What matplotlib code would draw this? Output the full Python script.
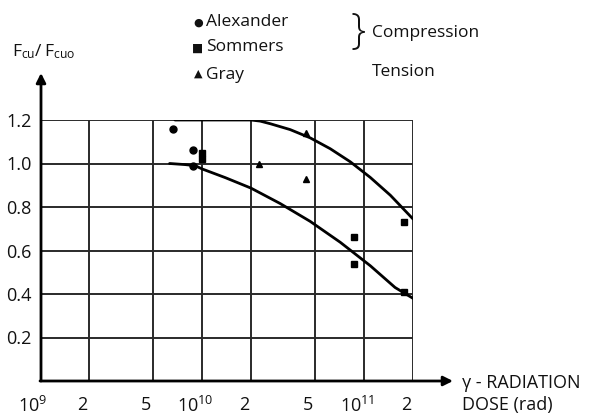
import matplotlib
matplotlib.use("Agg")
import matplotlib.pyplot as plt
from matplotlib.transforms import ScaledTranslation

plt.rcParams['font.family'] = ['Open Sans', 'DejaVu Sans']
plt.rcParams['mathtext.fontset'] = 'custom'
plt.rcParams['mathtext.rm'] = 'Open Sans'

# ---- data ----
x_ticks = [1e9, 2e9, 5e9, 1e10, 2e10, 5e10, 1e11, 2e11]
x_tick_labels = [r"$\mathregular{10^9}$", "2", "5", r"$\mathregular{10^{10}}$", "2", "5", r"$\mathregular{10^{11}}$", "2"]
y_ticks = [0.2, 0.4, 0.6, 0.8, 1.0, 1.2]
y_tick_labels = ["0.2", "0.4", "0.6", "0.8", "1.0", "1.2"]

alex_x = [6.6e9, 8.8e9, 8.8e9]
alex_y = [1.16, 1.06, 0.99]
somm_x = [1.0e10, 1.0e10, 8.6e10, 8.6e10, 1.75e11, 1.75e11]
somm_y = [1.05, 1.02, 0.66, 0.54, 0.73, 0.41]
gray_x = [2.25e10, 4.4e10, 4.4e10]
gray_y = [1.0, 1.14, 0.93]

upper_x = [6.8e9, 2.0e10, 2.28e10, 2.63e10, 3.49e10, 4.64e10, 6.17e10, 8.2e10, 1.09e11, 1.45e11, 2.0e11]
upper_y = [1.2, 1.2, 1.195, 1.183, 1.156, 1.118, 1.068, 1.008, 0.936, 0.854, 0.745]
lower_x = [6.3e9, 7.85e9, 9.06e9, 1.0e10, 1.39e10, 2.0e10, 3.03e10, 4.64e10, 7.11e10, 1.09e11, 1.55e11, 2.0e11]
lower_y = [1.0, 0.995, 0.99, 0.975, 0.935, 0.887, 0.816, 0.734, 0.638, 0.530, 0.43, 0.38]

fig = plt.figure(figsize=(5.89, 4.17), dpi=100)
ax = fig.add_axes([40/589, 1-381/417, 373/589, 261/417])
ax.set_xscale('log')
ax.set_xlim(1e9, 2e11)
ax.set_ylim(0, 1.2)
for s in ax.spines.values():
    s.set_visible(False)

gc = '#2a2a2a'
for xv in x_ticks[1:]:
    ax.axvline(xv, color=gc, lw=1.4, zorder=1)
for yv in y_ticks:
    ax.axhline(yv, color=gc, lw=1.4, zorder=1)

# axes with arrows
ax.annotate('', xy=(453/589, 1-381/417), xycoords='figure fraction',
            xytext=(40/589, 1-381/417), textcoords='figure fraction',
            arrowprops=dict(arrowstyle='-|>', color='black', lw=2.0, mutation_scale=14, shrinkA=0, shrinkB=0))
ax.annotate('', xy=(41/589, 1-73/417), xycoords='figure fraction',
            xytext=(41/589, 1-381/417), textcoords='figure fraction',
            arrowprops=dict(arrowstyle='-|>', color='black', lw=2.0, mutation_scale=14, shrinkA=0, shrinkB=0))

ax.plot(upper_x, upper_y, color='black', lw=2.0, zorder=3, solid_capstyle='round', solid_joinstyle='round')
ax.plot(lower_x, lower_y, color='black', lw=2.0, zorder=3, solid_capstyle='round', solid_joinstyle='round')
ax.plot(alex_x, alex_y, 'o', color='black', ms=5, zorder=4, ls='none')
ax.plot(somm_x, somm_y, 's', color='black', ms=4.5, zorder=4, ls='none')
ax.plot(gray_x, gray_y, '^', color='black', ms=4, zorder=4, ls='none')

ax.set_xticks(x_ticks)
ax.set_xticklabels(x_tick_labels)
ax.set_yticks(y_ticks)
ax.set_yticklabels(y_tick_labels)
ax.minorticks_off()
ax.tick_params(axis='both', length=0, labelsize=13, colors='#111111')
ax.tick_params(axis='x', pad=11)
ax.tick_params(axis='y', pad=6)
off = ScaledTranslation(-7/100, 0, fig.dpi_scale_trans)
for lab in ax.get_xticklabels():
    lab.set_transform(lab.get_transform() + off)

# texts
fc = '#111111'
fs = 12.5
fig.text(12/589, 1-52/417, r"$\mathregular{F_{cu}/\,F_{cuo}}$", fontsize=12.5, color=fc, va='center', ha='left')
fig.text(198/589, 1-23/417, "\u25cf", fontsize=8, color=fc, va='center', ha='center', family=['DejaVu Sans'])
fig.text(198/589, 1-48/417, "\u25a0", fontsize=8.5, color=fc, va='center', ha='center', family=['DejaVu Sans'])
fig.text(198/589, 1-74/417, "\u25b2", fontsize=8, color=fc, va='center', ha='center', family=['DejaVu Sans'])
fig.text(206/589, 1-22/417, "Alexander", fontsize=fs, color=fc, va='center', ha='left')
fig.text(206/589, 1-47/417, "Sommers", fontsize=fs, color=fc, va='center', ha='left')
fig.text(206/589, 1-75/417, "Gray", fontsize=fs, color=fc, va='center', ha='left')
fig.text(358/589, 1-32/417, "}", fontsize=31, color=fc, va='center', ha='center', fontweight='light')
fig.text(372/589, 1-33/417, "Compression", fontsize=fs, color=fc, va='center', ha='left')
fig.text(372/589, 1-72/417, "Tension", fontsize=fs, color=fc, va='center', ha='left')
fig.text(462/589, 1-383/417, "\u03b3 - RADIATION", fontsize=13, color=fc, va='center', ha='left')
fig.text(462/589, 1-405/417, "DOSE (rad)", fontsize=13, color=fc, va='center', ha='left')

fig.savefig("out.png", dpi=100)
